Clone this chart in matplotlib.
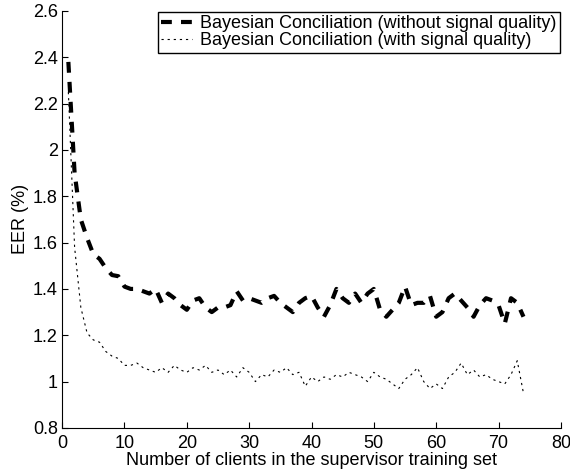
import matplotlib
matplotlib.use("Agg")
import matplotlib.pyplot as plt
from matplotlib.ticker import FormatStrFormatter

plt.rcParams["font.family"] = ["Liberation Sans", "DejaVu Sans"]
plt.rcParams["font.size"] = 13

n_clients = list(range(1, 75))

eer_without = [2.38, 1.90, 1.70, 1.62, 1.55, 1.53, 1.49, 1.46, 1.455, 1.41,
               1.40, 1.40, 1.39, 1.38, 1.40, 1.34, 1.38, 1.36, 1.33, 1.31,
               1.35, 1.36, 1.32, 1.30, 1.32, 1.32, 1.33, 1.39, 1.35, 1.36,
               1.35, 1.34, 1.36, 1.37, 1.34, 1.32, 1.30, 1.34, 1.36, 1.37,
               1.32, 1.28, 1.33, 1.40, 1.36, 1.34, 1.38, 1.34, 1.38, 1.40,
               1.31, 1.28, 1.31, 1.34, 1.41, 1.33, 1.34, 1.34, 1.37, 1.28,
               1.30, 1.36, 1.38, 1.35, 1.32, 1.28, 1.33, 1.36, 1.35, 1.33,
               1.25, 1.36, 1.34, 1.28]

eer_with = [2.25, 1.58, 1.32, 1.21, 1.18, 1.17, 1.13, 1.11, 1.10, 1.07,
            1.07, 1.08, 1.06, 1.05, 1.04, 1.06, 1.04, 1.07, 1.05, 1.04,
            1.06, 1.05, 1.07, 1.04, 1.05, 1.03, 1.05, 1.02, 1.06, 1.04,
            1.00, 1.03, 1.02, 1.05, 1.04, 1.06, 1.03, 1.04, 0.98, 1.02,
            1.00, 1.02, 1.01, 1.03, 1.02, 1.04, 1.03, 1.02, 1.00, 1.04,
            1.02, 1.01, 0.99, 0.97, 1.01, 1.03, 1.06, 1.00, 0.97, 0.99,
            0.97, 1.02, 1.04, 1.08, 1.03, 1.05, 1.02, 1.03, 1.01, 1.00,
            0.99, 1.03, 1.09, 0.95]

fig = plt.figure(figsize=(5.7, 4.76), dpi=100)
ax = fig.add_axes([0.109, 0.101, 0.875, 0.876])

ax.plot(n_clients, eer_without, color="black", linewidth=3.0, linestyle=(0, (2.6, 2.2)),
        dash_capstyle="butt", label="Bayesian Conciliation (without signal quality)")
ax.plot(n_clients, eer_with, color="black", linewidth=0.8, linestyle=(0, (2, 3.5)),
        dash_capstyle="butt", label="Bayesian Conciliation (with signal quality)")

ax.set_xlim(0, 80)
ax.set_ylim(0.8, 2.6)
ax.set_xticks(range(0, 81, 10))
ax.set_yticks([0.8, 1.0, 1.2, 1.4, 1.6, 1.8, 2.0, 2.2, 2.4, 2.6])
ax.yaxis.set_major_formatter(FormatStrFormatter("%g"))
ax.tick_params(direction="in", length=4, width=0.8)
ax.tick_params(axis="x", pad=5)
ax.tick_params(axis="y", pad=3)
ax.spines["top"].set_visible(False)
ax.spines["right"].set_visible(False)

ax.set_xlabel("Number of clients in the supervisor training set", labelpad=0)
ax.set_ylabel("EER (%)", labelpad=3)

leg = ax.legend(loc="upper right", borderaxespad=0.05, fancybox=False, framealpha=1,
                edgecolor="black", handlelength=1.7, borderpad=0.2, labelspacing=0.0,
                handletextpad=0.45, fontsize=13)
leg.get_frame().set_linewidth(1.0)

fig.savefig("out.png", dpi=100)
